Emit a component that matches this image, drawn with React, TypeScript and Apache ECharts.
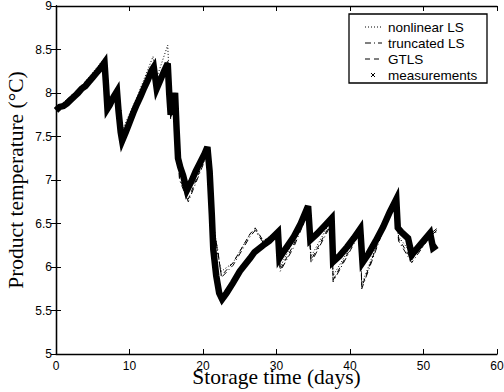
import React, { useEffect, useRef } from "react";
import * as echarts from "echarts";

const xTicks = [0, 10, 20, 30, 40, 50, 60];
const yTicks = [5, 5.5, 6, 6.5, 7, 7.5, 8, 8.5, 9];

const legendNames = ["nonlinear LS", "truncated LS", "GTLS", "measurements"];

// measurements (band centre)
const measurements: [number, number][] = [
  [0, 7.8], [0.5, 7.84], [1, 7.85], [1.5, 7.88], [2, 7.92], [2.5, 7.96], [3, 8.0], [3.5, 8.05],
  [4, 8.08], [4.5, 8.13], [5, 8.18], [5.5, 8.23], [6, 8.28], [6.6, 8.35], [6.8, 8.1], [7.0, 7.82],
  [7.3, 7.86], [7.8, 7.95], [8.3, 8.02], [8.5, 7.8], [8.8, 7.55], [9.0, 7.45], [9.5, 7.55], [10, 7.66],
  [10.5, 7.77], [11, 7.87], [11.5, 7.96], [12, 8.06], [12.5, 8.15], [13.0, 8.26], [13.3, 8.3],
  [13.7, 8.05], [14.2, 8.15], [14.7, 8.25], [15.2, 8.34], [15.4, 8.0], [15.6, 7.75], [15.9, 7.9],
  [16.2, 8.0], [16.4, 7.6], [16.6, 7.25], [16.9, 7.15], [17.3, 7.05], [17.8, 6.88], [18.4, 6.98],
  [19.0, 7.1], [19.6, 7.2], [20.2, 7.3], [20.6, 7.38], [20.9, 7.1], [21.2, 6.6], [21.4, 6.2],
  [21.8, 5.9], [22.2, 5.7], [22.6, 5.63], [23.2, 5.7], [24.1, 5.82], [25, 5.95], [26.4, 6.1],
  [27, 6.17], [28.2, 6.25], [29, 6.3], [30.2, 6.4], [30.4, 6.1], [31, 6.18], [32.3, 6.34],
  [33.3, 6.5], [34.3, 6.7], [34.6, 6.31], [35.5, 6.38], [36.5, 6.47], [37.5, 6.56], [37.7, 6.06],
  [38.6, 6.13], [39.6, 6.23], [40.5, 6.33], [41.4, 6.44], [41.7, 6.05], [42.5, 6.15], [43.5, 6.3],
  [44.5, 6.46], [45.4, 6.63], [46.3, 6.78], [46.5, 6.45], [47.0, 6.4], [47.9, 6.33], [48.4, 6.14],
  [49.2, 6.22], [50.2, 6.32], [50.9, 6.39], [51.3, 6.22], [51.8, 6.25],
];

const nonlinearLS: [number, number][] = [
  [0, 7.82], [3, 8.03], [6.6, 8.4], [7.0, 7.85], [8.3, 8.05], [8.9, 7.55], [11, 7.95], [13.2, 8.42],
  [13.6, 8.15], [15.2, 8.55], [15.6, 7.8], [16.3, 8.0], [16.8, 7.1], [17.9, 6.85], [20.6, 7.38],
  [21.3, 6.6], [22.0, 6.15], [22.5, 5.95], [24.1, 6.05], [26.4, 6.38], [27.1, 6.43], [28.2, 6.3],
  [30.2, 6.42], [30.5, 6.0], [32.3, 6.3], [34.3, 6.7], [34.7, 6.12], [37.5, 6.55], [37.7, 5.9],
  [41.4, 6.42], [41.6, 5.8], [44.5, 6.45], [46.3, 6.8], [46.6, 6.35], [48.4, 6.15], [50.9, 6.4],
  [51.8, 6.4],
];

const truncatedLS: [number, number][] = [
  [0, 7.8], [6.6, 8.35], [7.0, 7.8], [8.3, 8.0], [9.0, 7.48], [13.2, 8.32], [13.6, 8.0], [15.2, 8.38],
  [15.6, 7.7], [16.3, 7.95], [16.8, 7.0], [18.0, 6.75], [20.6, 7.3], [21.3, 6.5], [22.0, 6.2],
  [22.5, 5.88], [24.1, 6.02], [26.4, 6.35], [27.1, 6.42], [28.2, 6.28], [30.2, 6.38], [30.5, 5.95],
  [32.3, 6.22], [34.3, 6.62], [34.7, 6.05], [37.5, 6.5], [37.7, 5.83], [41.4, 6.4], [41.6, 5.75],
  [44.5, 6.42], [46.3, 6.75], [46.6, 6.3], [48.4, 6.05], [50.9, 6.35], [51.8, 6.42],
];

const gtls: [number, number][] = [
  [0, 7.8], [6.6, 8.33], [7.0, 7.8], [8.3, 8.0], [9.0, 7.47], [13.2, 8.3], [13.6, 8.02], [15.2, 8.36],
  [15.6, 7.72], [16.3, 7.96], [16.8, 7.02], [18.0, 6.78], [20.6, 7.32], [21.3, 6.52], [22.0, 6.18],
  [22.5, 5.9], [24.1, 6.05], [26.4, 6.38], [27.1, 6.45], [28.2, 6.3], [30.2, 6.4], [30.5, 5.97],
  [32.3, 6.25], [34.3, 6.65], [34.7, 6.08], [37.5, 6.52], [37.7, 5.85], [41.4, 6.42], [41.6, 5.77],
  [44.5, 6.44], [46.3, 6.77], [46.6, 6.33], [48.4, 6.08], [50.9, 6.38], [51.8, 6.44],
];

const SANS = "'Liberation Sans', Arial, sans-serif";
const SERIF = "'Liberation Serif', 'Times New Roman', serif";

export default function App() {
  const ref = useRef<HTMLDivElement>(null);
  useEffect(() => {
    if (!ref.current) return;
    const chart = echarts.init(ref.current, undefined, { renderer: "svg" });
    const axisCommon = {
      axisLine: { show: true, lineStyle: { color: "#000", width: 1.3 } },
      axisTick: { show: true, inside: true, length: 5, lineStyle: { color: "#000", width: 1 } },
      splitLine: { show: false },
    };
    const lx0 = 365, lx1 = 382, ltx = 388;
    const rows = [27, 43, 59, 75];
    const dashes: (number[] | null)[] = [[1, 2], [6, 3, 1, 3], [5, 4], null];
    const legendEls: any[] = [
      {
        type: "rect",
        shape: { x: 349, y: 14, width: 138, height: 69 },
        style: { fill: "#fff", stroke: "#000", lineWidth: 1.3 },
        z: 100,
      },
    ];
    legendNames.forEach((name, i) => {
      const y = rows[i];
      if (dashes[i]) {
        legendEls.push({
          type: "line",
          shape: { x1: lx0, y1: y, x2: lx1, y2: y },
          style: { stroke: "#000", lineWidth: 1, lineDash: dashes[i] },
          z: 101,
        });
      } else {
        legendEls.push({
          type: "line",
          shape: { x1: 371, y1: y - 2, x2: 375, y2: y + 2 },
          style: { stroke: "#000", lineWidth: 1 },
          z: 101,
        });
        legendEls.push({
          type: "line",
          shape: { x1: 371, y1: y + 2, x2: 375, y2: y - 2 },
          style: { stroke: "#000", lineWidth: 1 },
          z: 101,
        });
      }
      legendEls.push({
        type: "text",
        x: ltx,
        y,
        style: {
          text: name,
          fill: "#000",
          font: `13.5px ${SANS}`,
          verticalAlign: "middle",
          align: "left",
        },
        z: 101,
      });
    });

    chart.setOption({
      animation: false,
      backgroundColor: "#fff",
      grid: { left: 56, top: 6, width: 441, height: 348, containLabel: false, outerBoundsMode: "none" },
      xAxis: [
        {
          type: "value",
          min: xTicks[0],
          max: xTicks[xTicks.length - 1],
          interval: 10,
          position: "bottom",
          ...axisCommon,
          axisLabel: { color: "#000", fontSize: 12, fontFamily: SANS, margin: 6 },
          name: "Storage time (days)",
          nameLocation: "middle",
          nameGap: 12,
          nameMoveOverlap: false,
          nameTextStyle: { color: "#000", fontSize: 21.5, fontFamily: SERIF },
        },
        {
          type: "value",
          min: xTicks[0],
          max: xTicks[xTicks.length - 1],
          interval: 10,
          position: "top",
          ...axisCommon,
          axisLabel: { show: false },
        },
      ],
      yAxis: [
        {
          type: "value",
          min: yTicks[0],
          max: yTicks[yTicks.length - 1],
          interval: 0.5,
          position: "left",
          ...axisCommon,
          axisLabel: { color: "#000", fontSize: 12, fontFamily: SANS, margin: 4 },
          name: "Product temperature (°C)",
          nameLocation: "middle",
          nameGap: 29,
          nameMoveOverlap: false,
          nameTextStyle: { color: "#000", fontSize: 21.5, fontFamily: SERIF },
        },
        {
          type: "value",
          min: yTicks[0],
          max: yTicks[yTicks.length - 1],
          interval: 0.5,
          position: "right",
          ...axisCommon,
          axisLabel: { show: false },
        },
      ],
      series: [
        {
          name: legendNames[0],
          type: "line",
          data: nonlinearLS,
          showSymbol: false,
          lineStyle: { color: "#000", width: 1, type: [1, 2] },
          z: 2,
        },
        {
          name: legendNames[1],
          type: "line",
          data: truncatedLS,
          showSymbol: false,
          lineStyle: { color: "#000", width: 1, type: [6, 3, 1, 3] },
          z: 2,
        },
        {
          name: legendNames[2],
          type: "line",
          data: gtls,
          showSymbol: false,
          lineStyle: { color: "#000", width: 1, type: [5, 4] },
          z: 2,
        },
        {
          name: legendNames[3],
          type: "line",
          data: measurements,
          showSymbol: false,
          lineStyle: { color: "#000", width: 6.5, join: "miter" },
          z: 3,
        },
      ],
      graphic: legendEls,
    });
    return () => chart.dispose();
  }, []);
  return (
    <div
      ref={ref}
      style={{ position: "fixed", left: 0, top: 0, width: 504, height: 392 }}
    />
  );
}
